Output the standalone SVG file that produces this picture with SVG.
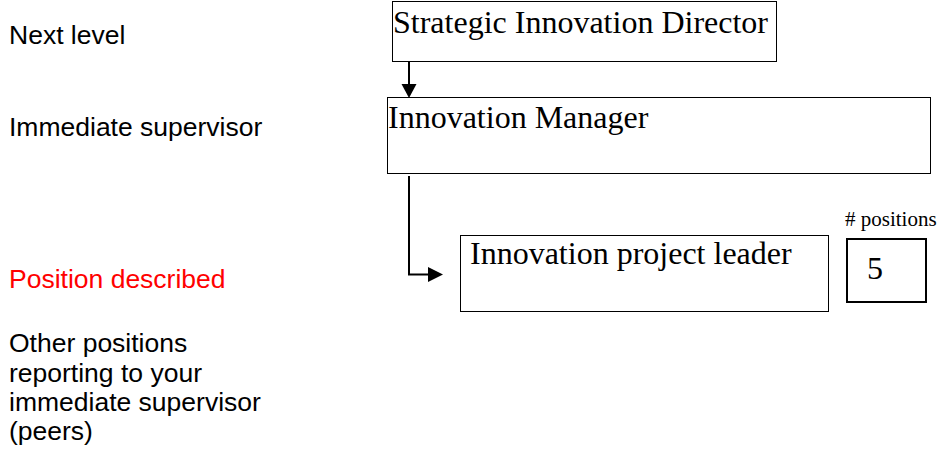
<svg xmlns="http://www.w3.org/2000/svg" width="941" height="452" viewBox="0 0 941 452">
<style>
.lbl{font-family:"Liberation Sans",Arial,sans-serif;font-size:26.5px;fill:#000}
.red{fill:#ff0000}
.box{fill:#fff;stroke:#000;stroke-width:1}
.nt{font-family:"Liberation Serif","Times New Roman",serif;font-size:32px;fill:#000}
.small{font-family:"Liberation Serif","Times New Roman",serif;font-size:21px;fill:#000}
.conn{fill:none;stroke:#000;stroke-width:2}
</style>
<defs>
<marker id="ah" markerWidth="8" markerHeight="8" refX="8" refY="4" orient="auto" markerUnits="userSpaceOnUse" viewBox="0 0 8 8">
<path d="M0,0 L8,4 L0,8 Z" fill="#000"/>
</marker>
</defs>
<rect width="941" height="452" fill="#fff"/>
<g id="legend">
<text class="lbl" x="9" y="44">Next level</text>
<text class="lbl" x="9" y="136">Immediate supervisor</text>
<text class="lbl red" x="9" y="288">Position described</text>
<text class="lbl" x="9" y="352">Other positions</text>
<text class="lbl" x="9" y="382">reporting to your</text>
<text class="lbl" x="9" y="411">immediate supervisor</text>
<text class="lbl" x="9" y="440">(peers)</text>
</g>
<g id="connectors">
<line class="conn" x1="409" y1="62" x2="409" y2="85"/>
<path d="M401.5,84 L416.5,84 L409,98 Z" fill="#000"/>
<polyline class="conn" points="409,176 409,274.5 429,274.5"/>
<path d="M428,267 L443,274.5 L428,282 Z" fill="#000"/>
</g>
<g id="director">
<rect class="box" x="392.5" y="1.5" width="384" height="60"/>
<text class="nt" x="393" y="33">Strategic Innovation Director</text>
</g>
<g id="manager">
<rect class="box" x="387.5" y="97.5" width="543" height="76"/>
<text class="nt" x="388" y="128">Innovation Manager</text>
</g>
<g id="leader">
<rect class="box" x="460.5" y="235.5" width="368" height="76"/>
<text class="nt" x="470" y="264">Innovation project leader</text>
</g>
<g id="positions">
<text class="small" x="845" y="226"># positions</text>
<rect x="847" y="239" width="79" height="63" fill="#fff" stroke="#000" stroke-width="2"/>
<text class="nt" x="867" y="279">5</text>
</g>
</svg>
